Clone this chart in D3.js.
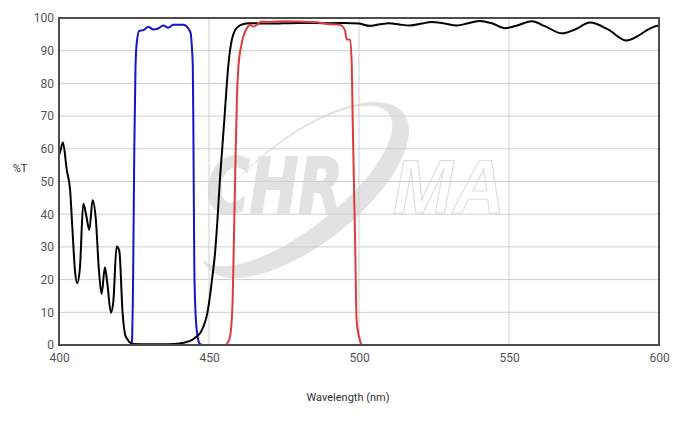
<!DOCTYPE html>
<html>
<head>
<meta charset="utf-8">
<script src="https://cdn.jsdelivr.net/npm/d3@7/dist/d3.min.js"></script>
<style>
  html, body { margin: 0; padding: 0; background: #fff; }
  svg { display: block; font-family: Roboto, "Noto Sans", sans-serif; }
</style>
</head>
<body>
<svg id="chart" width="697" height="427"></svg>
<script>
// ---- Data ----
const xTicks = [400, 450, 500, 550, 600];
const yTicks = [0, 10, 20, 30, 40, 50, 60, 70, 80, 90, 100];
const xLabel = "Wavelength (nm)";
const yLabel = "%T";

// Black curve (wavelength nm, %T)
const blackWl = [400,400.5,401.3,402.6,403.7,404.5,405.3,406.1,407,408.1,409,410.1,411.2,412.3,413.3,414.2,415.3,416.1,417.3,418.1,419.2,420.1,421.2,422.1,423,423.7,425,430,435,438,440.3,442.5,444.2,445.8,447,448.2,449.2,450.3,451,452,452.8,453.7,454.4,455.1,455.8,456.4,457,457.6,458.7,460,461,463.7,470,480,490,495,500,503.5,507,510,513.5,517,521,524.2,528,532.6,536.5,540.3,544.5,548.7,553,557.6,562,567.6,572,577,583,589.2,593,596,598,600];
const blackT  = [58,59.5,61.9,53.5,47.4,35,23,18.9,24,43.3,40,35.2,44.3,38.2,22.9,15.6,23.8,18.9,9.9,13.2,30.1,28.8,9.8,3,1.5,0.7,0.3,0.2,0.2,0.3,0.5,0.9,1.5,2.5,3.6,5.8,8.7,14.8,20,28,38,51.5,60,68.8,78,85.1,90,93.3,96.3,97.5,98,98.4,98.3,98.5,98.4,98.5,98.3,97.6,98.1,98.4,98.0,97.7,98.3,98.8,98.4,97.7,98.4,99.1,98.3,96.9,97.8,99.0,97.5,95.3,96.5,98.6,96.5,93.1,94.5,96.3,97.2,97.7];

// Blue curve
const blueWl = [400,424,424.3,424.7,425.1,425.5,425.9,426.8,428.1,429.8,431.4,433.1,434.8,436.4,438.1,441.4,443.1,443.9,444.3,444.6,444.8,445.1,445.5,445.9,446.5,447,448,600];
const blueT  = [0,0,1,20,60,85,92.3,96.1,96.3,97.3,96.5,96.8,97.7,97.0,97.9,97.9,96.8,95.3,91,85.1,64.8,24,10,4.6,1.2,0.3,0,0];

// Red curve
const redWl = [400,455.5,456.3,457,457.8,458.3,458.8,459.3,459.8,460.9,462.6,463.7,464.8,465.9,467.6,470,475,480,485,489.2,493.7,495.3,495.9,497,497.6,497.9,498.3,498.7,499.2,500.3,501,600];
const redT  = [0,0,0.8,2.5,11.7,32,55,75,85,92.2,96.8,97.9,97.4,97.9,98.9,98.8,99,98.9,98.8,98.2,97.9,96.3,93.5,93.3,85.1,68.8,50,32,7.6,1.5,0,0];

// ---- Layout ----
const svg = d3.select("#chart");
const L = 59, R = 659, T = 18, B = 345;
const x = d3.scaleLinear().domain([400, 600]).range([L, R]);
const y = d3.scaleLinear().domain([0, 100]).range([B, T]);

// ---- Watermark ----
const wm = svg.append("g").attr("class", "watermark");
const wmGrey = "#e2e2e2";
const ell = wm.append("g").attr("transform", "translate(305,190) rotate(-38)");
ell.append("ellipse").attr("cx", 0).attr("cy", 0).attr("rx", 125).attr("ry", 54).attr("fill", wmGrey);
ell.append("ellipse").attr("cx", -5).attr("cy", -9).attr("rx", 118).attr("ry", 43.5).attr("fill", "#fff");
wm.append("text")
  .attr("x", 207).attr("y", 213)
  .attr("font-family", "'DejaVu Sans', sans-serif")
  .attr("font-weight", "bold").attr("font-style", "italic")
  .attr("font-size", 76)
  .attr("textLength", 136).attr("lengthAdjust", "spacingAndGlyphs")
  .attr("fill", wmGrey).attr("stroke", wmGrey).attr("stroke-width", 2)
  .text("CHR");
wm.append("text")
  .attr("x", 393).attr("y", 213)
  .attr("font-family", "'Liberation Sans', Arial, sans-serif")
  .attr("font-style", "italic").attr("font-weight", "bold")
  .attr("font-size", 76)
  .attr("textLength", 112).attr("lengthAdjust", "spacingAndGlyphs")
  .attr("fill", "none").attr("stroke", "#dedede").attr("stroke-width", 1.2)
  .text("MA");

// ---- Grid ----
const grid = svg.append("g").attr("class", "grid");
grid.selectAll("line.h").data(yTicks).enter().append("line")
  .attr("x1", L).attr("x2", R)
  .attr("y1", d => y(d)).attr("y2", d => y(d))
  .attr("stroke", "#cfcfcf").attr("stroke-width", 1);
grid.selectAll("line.v").data(xTicks).enter().append("line")
  .attr("y1", T).attr("y2", B)
  .attr("x1", d => x(d)).attr("x2", d => x(d))
  .attr("stroke", "#cfcfcf").attr("stroke-width", 1);

// ---- Curves ----
const line = d3.line().x(d => x(d[0])).y(d => y(d[1])).curve(d3.curveMonotoneX);
const series = [
  { wl: blueWl, t: blueT, color: "#1414c8" },
  { wl: blackWl, t: blackT, color: "#000000" },
  { wl: redWl, t: redT, color: "#e03a3a" }
];
const plot = svg.append("g");
series.forEach(s => {
  plot.append("path")
    .datum(s.wl.map((w, i) => [w, s.t[i]]))
    .attr("d", line)
    .attr("fill", "none")
    .attr("stroke", s.color)
    .attr("stroke-width", 2)
    .attr("stroke-linejoin", "round");
});

// ---- Frame ----
svg.append("rect")
  .attr("x", L).attr("y", T).attr("width", R - L).attr("height", B - T)
  .attr("fill", "none").attr("stroke", "#4d4d4d").attr("stroke-width", 2);

// ---- Axes ----
const yAxis = d3.axisLeft(y).tickValues(yTicks).tickSize(0).tickPadding(5);
const yg = svg.append("g").attr("transform", `translate(${L},0)`).call(yAxis);
const xAxis = d3.axisBottom(x).tickValues(xTicks).tickSize(0).tickPadding(8);
const xg = svg.append("g").attr("transform", `translate(0,${B})`).call(xAxis);
[yg, xg].forEach(g => {
  g.select(".domain").remove();
  g.selectAll("text").attr("font-size", 12).attr("fill", "#555")
    .attr("font-family", "Roboto, sans-serif");
});

svg.append("text")
  .attr("x", 20).attr("y", 172)
  .attr("text-anchor", "middle")
  .attr("font-size", 11).attr("fill", "#333")
  .text(yLabel);
svg.append("text")
  .attr("x", 348).attr("y", 401)
  .attr("text-anchor", "middle")
  .attr("font-size", 11).attr("fill", "#333")
  .text(xLabel);
</script>
</body>
</html>
